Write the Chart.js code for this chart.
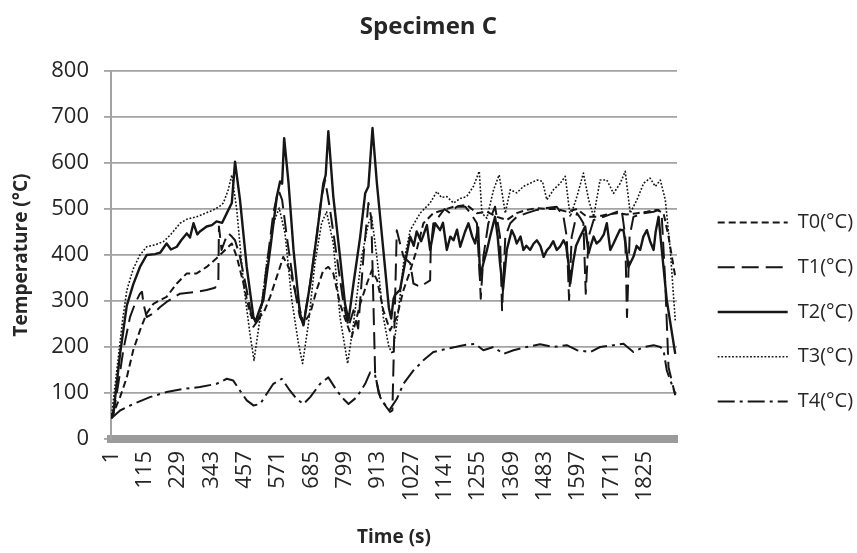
<!DOCTYPE html>
<html>
<head>
<meta charset="utf-8">
<title>Specimen C</title>
<script src="https://cdn.jsdelivr.net/npm/chart.js@4"></script>
<style>
  html, body { margin: 0; padding: 0; background: #fff; }
  canvas { display: block; }
</style>
</head>
<body>
<canvas id="specimenChart" width="857" height="553"></canvas>
<script>
// Tick labels of the time axis (s)
const timeTicks = [1, 115, 229, 343, 457, 571, 685, 799, 913, 1027, 1141, 1255, 1369, 1483, 1597, 1711, 1825];

// Series names
const seriesNames = ['T0(°C)', 'T1(°C)', 'T2(°C)', 'T3(°C)', 'T4(°C)'];

// [time (s), temperature (°C)]
const t0Points = [[1,45],[31,91],[54,134],[76,193],[99,236],[122,273],[145,294],[168,302],[190,309],[225,338],[259,360],[293,360],[327,374],[361,393],[390,411],[413,425],[430,396],[453,338],[475,273],[492,258],[521,273],[544,309],[567,353],[589,396],[612,367],[635,309],[658,251],[681,273],[703,324],[726,367],[743,374],[760,360],[783,294],[806,251],[823,222],[852,294],[875,338],[892,367],[910,345],[931,280],[954,236],[977,265],[1000,324],[1020,360],[1045,411],[1068,469],[1102,491],[1137,498],[1171,505],[1216,509],[1251,491],[1285,494],[1319,483],[1353,476],[1387,491],[1421,498],[1456,502],[1490,500],[1524,500],[1558,494],[1593,500],[1627,483],[1661,483],[1695,488],[1729,491],[1763,488],[1798,491],[1832,494],[1866,498],[1889,491],[1906,440],[1929,353]];

const t1Points = [[1,50],[10,62],[25,120],[42,193],[65,265],[82,294],[99,316],[106,320],[111,294],[122,265],[145,273],[168,287],[190,298],[236,316],[293,320],[327,324],[356,329],[367,345],[369,462],[378,411],[390,432],[401,447],[413,440],[424,432],[441,396],[464,324],[487,244],[510,265],[532,374],[555,491],[572,542],[585,520],[601,440],[624,338],[646,265],[658,251],[681,338],[703,440],[720,527],[732,563],[749,498],[772,396],[795,294],[812,244],[829,280],[845,240],[863,396],[880,513],[890,480],[903,143],[915,100],[935,75],[954,59],[962,62],[977,454],[990,420],[1000,396],[1023,382],[1034,338],[1057,331],[1074,338],[1091,345],[1093,411],[1102,469],[1120,483],[1140,500],[1159,491],[1182,505],[1211,505],[1230,490],[1251,469],[1262,338],[1264,305],[1273,396],[1290,469],[1313,505],[1330,440],[1337,280],[1348,440],[1365,469],[1387,483],[1421,491],[1456,498],[1490,502],[1524,505],[1547,483],[1558,440],[1566,302],[1575,440],[1593,491],[1605,480],[1615,469],[1623,316],[1633,440],[1650,476],[1684,483],[1718,491],[1746,498],[1758,440],[1764,265],[1773,440],[1786,483],[1821,491],[1855,494],[1872,498],[1883,483],[1895,338],[1906,156],[1929,95]];

const t2Points = [[1,45],[8,55],[31,185],[54,290],[76,336],[99,374],[122,400],[150,402],[168,405],[190,425],[205,412],[225,418],[240,432],[259,447],[270,438],[282,469],[295,445],[304,451],[327,462],[345,465],[361,473],[380,470],[396,491],[413,513],[424,603],[441,520],[464,374],[487,265],[494,255],[510,285],[521,302],[544,411],[567,527],[578,560],[585,555],[592,654],[607,556],[624,411],[646,273],[658,247],[681,338],[703,440],[726,556],[734,574],[743,669],[760,527],[783,396],[800,294],[812,258],[829,338],[852,440],[869,534],[880,549],[894,676],[909,556],[931,411],[950,285],[958,262],[966,305],[971,313],[988,324],[1005,382],[1023,440],[1035,420],[1045,451],[1060,430],[1068,443],[1080,465],[1091,411],[1108,469],[1125,454],[1135,470],[1148,411],[1160,440],[1171,432],[1183,455],[1194,418],[1210,450],[1222,469],[1235,440],[1245,425],[1255,460],[1262,353],[1273,382],[1285,410],[1296,440],[1313,483],[1322,440],[1330,382],[1340,324],[1353,411],[1370,454],[1380,440],[1387,425],[1400,440],[1410,411],[1420,420],[1433,411],[1445,425],[1456,432],[1468,420],[1479,396],[1490,410],[1501,418],[1512,430],[1524,411],[1535,418],[1547,432],[1556,420],[1564,382],[1570,338],[1580,385],[1590,420],[1604,440],[1621,462],[1633,404],[1640,420],[1650,440],[1660,425],[1672,432],[1685,445],[1695,469],[1707,411],[1718,425],[1729,440],[1740,455],[1752,454],[1760,420],[1769,374],[1786,396],[1797,420],[1809,411],[1820,440],[1832,454],[1843,430],[1855,411],[1862,450],[1872,483],[1883,411],[1900,302],[1929,185]];

const t3Points = [[1,45],[20,150],[40,260],[54,323],[76,370],[99,400],[122,418],[150,422],[179,429],[205,445],[236,469],[260,478],[293,483],[320,490],[350,498],[370,505],[384,513],[400,540],[413,574],[430,498],[453,338],[475,229],[489,171],[510,265],[532,382],[555,469],[575,502],[595,447],[618,302],[641,207],[655,164],[675,251],[697,382],[720,469],[737,494],[760,425],[783,265],[809,164],[829,251],[857,396],[880,469],[891,483],[909,396],[931,265],[950,200],[963,185],[983,280],[1000,382],[1023,454],[1057,491],[1091,513],[1114,538],[1130,525],[1148,527],[1171,513],[1194,523],[1216,527],[1239,549],[1259,582],[1268,491],[1285,480],[1308,542],[1327,574],[1348,491],[1365,542],[1387,535],[1410,549],[1433,556],[1456,563],[1475,560],[1490,520],[1513,542],[1536,556],[1553,571],[1570,483],[1593,527],[1615,578],[1633,520],[1650,483],[1672,563],[1695,563],[1718,534],[1741,556],[1758,582],[1775,491],[1798,520],[1821,556],[1843,567],[1861,549],[1878,563],[1895,520],[1912,411],[1929,258]];

const t4Points = [[1,45],[31,62],[76,76],[133,91],[190,102],[248,109],[304,113],[361,120],[396,131],[418,127],[441,105],[464,84],[487,73],[510,76],[532,98],[555,120],[584,131],[612,105],[635,87],[658,76],[681,91],[715,120],[743,134],[772,105],[795,87],[812,76],[840,91],[869,120],[886,145],[903,138],[920,91],[943,69],[954,65],[977,87],[1000,120],[1034,149],[1068,171],[1102,189],[1148,196],[1205,204],[1245,207],[1273,193],[1308,200],[1342,185],[1376,193],[1421,200],[1467,206],[1513,200],[1558,204],[1593,193],[1638,189],[1672,200],[1718,204],[1752,207],[1786,189],[1821,200],[1855,204],[1878,200],[1889,193],[1900,149],[1929,98]];

const FONT = "'Open Sans', 'DejaVu Sans', sans-serif";
const TEXT = '#262626';
const GRID = '#a3a3a3';
const INK = '#161616';

function toXY(points) {
    return points.map(function (p) { return { x: p[0], y: p[1] }; });
}

// one line style per sensor
const lineStyles = [
    { dash: [7, 4], width: 2 },            // T0 short dash
    { dash: [17, 7], width: 2 },           // T1 long dash
    { dash: [], width: 2.4 },              // T2 solid
    { dash: [1.8, 1.8], width: 1.6 },      // T3 dotted
    { dash: [17, 5, 3, 5], width: 2 }      // T4 dash-dot
];
const allPoints = [t0Points, t1Points, t2Points, t3Points, t4Points];

const datasets = seriesNames.map(function (name, i) {
    return {
        label: name,
        data: toXY(allPoints[i]),
        borderColor: INK,
        backgroundColor: INK,
        borderWidth: lineStyles[i].width,
        borderDash: lineStyles[i].dash,
        borderJoinStyle: 'round',
        pointRadius: 0,
        tension: 0,
        fill: false
    };
});

const ctx = document.getElementById('specimenChart').getContext('2d');
new Chart(ctx, {
    type: 'line',
    data: { datasets: datasets },
    options: {
        responsive: false,
        devicePixelRatio: 1,
        animation: false,
        layout: { padding: 0 },
        plugins: {
            title: {
                display: true,
                text: 'Specimen C',
                color: TEXT,
                font: { family: FONT, size: 24, weight: 'bold' },
                padding: { top: 12.6, bottom: 29.6 }
            },
            legend: {
                position: 'right',
                align: 'center',
                maxWidth: 164,
                // empty title only pushes the entries down to sit beside the plot
                title: { display: true, text: '', font: { size: 12 }, padding: { top: 0, bottom: 56.6 } },
                labels: {
                    usePointStyle: true,
                    pointStyle: 'line',
                    pointStyleWidth: 70,
                    boxHeight: 20,
                    padding: 24.7,
                    color: TEXT,
                    font: { family: FONT, size: 20 },
                    generateLabels: function (chart) {
                        const items = Chart.defaults.plugins.legend.labels.generateLabels(chart);
                        items.forEach(function (item) {
                            const ds = chart.data.datasets[item.datasetIndex];
                            item.lineDash = ds.borderDash;
                            item.lineWidth = ds.borderWidth;
                            item.strokeStyle = ds.borderColor;
                        });
                        return items;
                    }
                }
            },
            tooltip: { enabled: false }
        },
        scales: {
            x: {
                type: 'linear',
                min: 0,
                max: 1935,
                afterBuildTicks: function (axis) {
                    axis.ticks = timeTicks.map(function (v) { return { value: v }; });
                },
                afterFit: function (axis) { axis.height = 114; },
                grid: { display: false, drawTicks: false },
                border: { display: true, color: '#9b9b9b', width: 8 },
                ticks: {
                    autoSkip: false,
                    minRotation: 90,
                    maxRotation: 90,
                    padding: 12,
                    color: TEXT,
                    font: { family: FONT, size: 22 },
                    callback: function (v) { return String(v); }
                },
                title: {
                    display: true,
                    text: 'Time (s)',
                    color: TEXT,
                    font: { family: FONT, size: 19, weight: 'bold' },
                    padding: { top: 0, bottom: 4 }
                }
            },
            y: {
                min: 0,
                max: 800,
                afterFit: function (axis) { axis.width = 111; },
                grid: { color: GRID, lineWidth: 1.8, drawTicks: true, tickLength: 7, tickColor: GRID },
                border: { display: true, color: GRID, width: 2 },
                ticks: {
                    stepSize: 100,
                    padding: 15,
                    color: TEXT,
                    font: { family: FONT, size: 22 }
                },
                title: {
                    display: true,
                    text: 'Temperature (°C)',
                    color: TEXT,
                    font: { family: FONT, size: 19, weight: 'bold' },
                    padding: { top: 10.6, bottom: 0 }
                }
            },
            // empty right-hand axis only keeps a gap between plot and legend
            gap: {
                type: 'linear',
                position: 'right',
                display: true,
                grid: { display: false },
                border: { display: false },
                ticks: { display: false },
                afterFit: function (axis) { axis.width = 16; }
            }
        }
    }
});
</script>
</body>
</html>
